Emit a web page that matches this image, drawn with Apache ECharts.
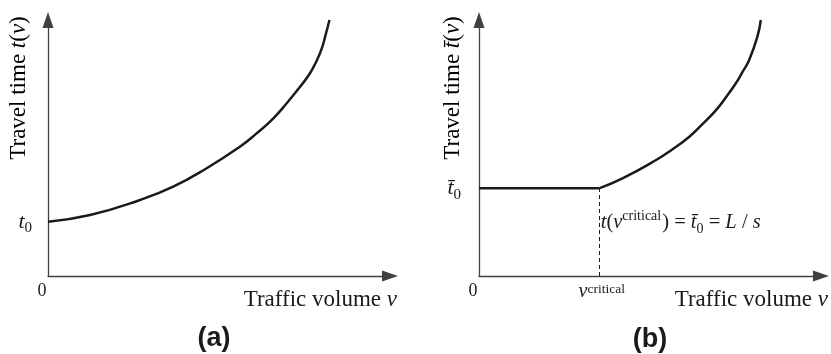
<!DOCTYPE html>
<html>
<head>
<meta charset="utf-8">
<script src="https://cdn.jsdelivr.net/npm/echarts@6/dist/echarts.min.js"></script>
<style>
html,body{margin:0;padding:0;background:#fff;}
#chart{width:831px;height:354px;}
</style>
</head>
<body>
<div id="chart"></div>
<script>
// ---- data (arbitrary units, 0..100 on both axes) ----
const leftCurveX  = [0, 12.3, 26.9, 36.6, 46.4, 56.1, 61.0, 65.9, 69.8, 73.7, 76.6, 78.6, 80.0, 81.0, 82.3];
const leftCurveY  = [21.2, 23.8, 29.7, 34.9, 42.1, 50.5, 55.7, 61.6, 67.5, 73.9, 79.2, 84.2, 88.7, 93.3, 100];
const vCritical   = 35.3;
const t0Left      = 21.2;
const t0Right     = 34.3;
const rightFlatX  = [0, vCritical];
const rightFlatY  = [t0Right, t0Right];
const rightCurveX = [35.3, 42.1, 51.8, 56.6, 61.5, 65.4, 69.3, 72.2, 75.1, 77.1, 79.0, 81.4, 82.4];
const rightCurveY = [34.3, 38.2, 45.3, 49.5, 54.4, 59.4, 64.8, 69.8, 75.3, 79.8, 84.4, 93.5, 100];
const xTicksLeft  = [0];
const xTicksRight = [0, vCritical];
const xAxisTitle  = 'Traffic volume ';
const yAxisTitle  = 'Travel time ';
const panelLabels = ['(a)', '(b)'];

const zip = (xs, ys) => xs.map((x, i) => [x, ys[i]]);

const SERIF = '"Liberation Serif","Times New Roman",serif';
const AXIS_COLOR = '#404040';
const INK = '#1a1a1a';

const richBase = {
  n:   {fontFamily: SERIF, fontSize: 23, color: INK},
  i:   {fontFamily: SERIF, fontSize: 23, fontStyle: 'italic', color: INK}
};

function xAxisCfg(gridIndex, ticks, gap) {
  return {
    type: 'value', gridIndex, min: 0, max: 100,
    splitLine: {show: false},
    axisTick: {show: false},
    axisLine: {show: true, symbol: ['none', 'triangle'], symbolSize: [11, 16],
               lineStyle: {color: AXIS_COLOR, width: 1.3}},
    axisLabel: {
      show: true, customValues: ticks, margin: 6,
      formatter: v => v === 0 ? '{z|0}' : '{v|v}{c|critical}',
      rich: {
        z: {fontFamily: SERIF, fontSize: 18, lineHeight: 18, color: INK, padding: [0, 12, 0, 0]},
        v: {fontFamily: SERIF, fontSize: 20, lineHeight: 20, fontStyle: 'italic', color: INK,
            verticalAlign: 'bottom', padding: [3, 0, 0, 4]},
        c: {fontFamily: SERIF, fontSize: 13.5, lineHeight: 13, color: INK, verticalAlign: 'top'}
      }
    },
    name: '{n|' + xAxisTitle + '}{i|v}',
    nameLocation: 'end', nameGap: gap,
    nameTextStyle: {align: 'right', verticalAlign: 'top', padding: [12, 0, 0, 0], rich: richBase}
  };
}

function yAxisCfg(gridIndex, t0, bar, margin) {
  return {
    type: 'value', gridIndex, min: 0, max: 100,
    splitLine: {show: false},
    axisTick: {show: false},
    axisLine: {show: true, symbol: ['none', 'triangle'], symbolSize: [11, 16],
               lineStyle: {color: AXIS_COLOR, width: 1.3}},
    axisLabel: {
      show: true, customValues: [t0], margin: margin,
      formatter: () => bar ? '{t|t\u0304}{s|0}' : '{t|t}{s|0}',
      rich: {
        t: {fontFamily: SERIF, fontSize: 22, lineHeight: 22, fontStyle: 'italic', color: INK, verticalAlign: 'top'},
        s: {fontFamily: SERIF, fontSize: 15, lineHeight: 15, color: INK, verticalAlign: 'top', padding: [10, 0, 0, 0]}
      }
    }
  };
}

const annRich = {
  n:   {fontFamily: SERIF, fontSize: 20.5, lineHeight: 20, color: INK, verticalAlign: 'top', padding: [6, 0, 0, 0]},
  i:   {fontFamily: SERIF, fontSize: 20.5, lineHeight: 20, fontStyle: 'italic', color: INK, verticalAlign: 'top', padding: [6, 0, 0, 0]},
  sup: {fontFamily: SERIF, fontSize: 14, lineHeight: 14, color: INK, verticalAlign: 'top', padding: [3, 1, 0, 0]},
  sub: {fontFamily: SERIF, fontSize: 14, lineHeight: 14, color: INK, verticalAlign: 'top', padding: [16, 0, 0, 0]}
};

const option = {
  backgroundColor: '#ffffff',
  animation: false,
  grid: [
    {left: 48, top: 20, width: 342, height: 256},
    {left: 479, top: 20, width: 343, height: 256}
  ],
  xAxis: [xAxisCfg(0, xTicksLeft, 7), xAxisCfg(1, xTicksRight, 7)],
  yAxis: [yAxisCfg(0, t0Left, false, 16), yAxisCfg(1, t0Right, true, 18)],
  series: [
    {type: 'line', xAxisIndex: 0, yAxisIndex: 0, data: zip(leftCurveX, leftCurveY),
     smooth: 0.5, showSymbol: false, lineStyle: {color: INK, width: 2.5}},
    {type: 'line', xAxisIndex: 1, yAxisIndex: 1, data: zip(rightFlatX, rightFlatY),
     showSymbol: false, lineStyle: {color: INK, width: 2.5},
     markLine: {
       silent: true, symbol: ['none', 'none'],
       lineStyle: {color: INK, width: 1, type: [4, 3]},
       label: {show: false},
       data: [[{coord: [vCritical, 0]}, {coord: [vCritical, t0Right]}]]
     },
     markPoint: {
       silent: true, symbol: 'circle', symbolSize: 0,
       data: [{coord: [vCritical, 23.2]}],
       label: {
         show: true, position: 'right', distance: 1,
         formatter: '{i|t}{n|(}{i|v}{sup|critical}{n|) = }{i|t\u0304}{sub|0}{n| = }{i|L}{n| / }{i|s}',
         rich: annRich
       }
     }},
    {type: 'line', xAxisIndex: 1, yAxisIndex: 1, data: zip(rightCurveX, rightCurveY),
     smooth: 0.5, showSymbol: false, lineStyle: {color: INK, width: 2.5}}
  ],
  graphic: [
    {type: 'text', x: 19, y: 88, rotation: Math.PI / 2,
     style: {text: '{n|' + yAxisTitle + '}{i|t}{n|(}{i|v}{n|)}', rich: richBase, align: 'center', verticalAlign: 'middle'}},
    {type: 'text', x: 453, y: 88, rotation: Math.PI / 2,
     style: {text: '{n|' + yAxisTitle + '}{i|t\u0304}{n|(}{i|v}{n|)}', rich: richBase, align: 'center', verticalAlign: 'middle'}},
    {type: 'text', x: 214, y: 339,
     style: {text: panelLabels[0], font: 'bold 27px "Liberation Sans", Arial, sans-serif', fill: INK, align: 'center', verticalAlign: 'middle'}},
    {type: 'text', x: 650, y: 340,
     style: {text: panelLabels[1], font: 'bold 27px "Liberation Sans", Arial, sans-serif', fill: INK, align: 'center', verticalAlign: 'middle'}}
  ]
};

const chart = echarts.init(document.getElementById('chart'), null, {renderer: 'canvas'});
chart.setOption(option);
</script>
</body>
</html>
